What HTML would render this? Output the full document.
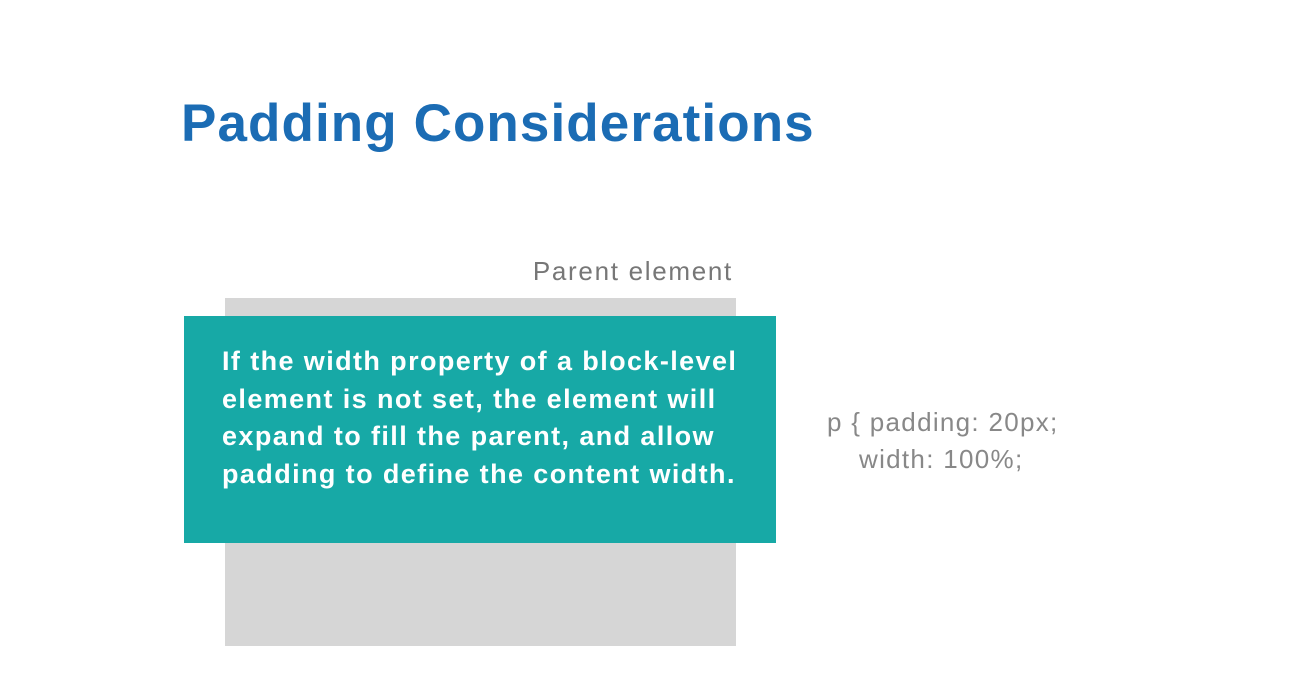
<!DOCTYPE html>
<html>
<head>
<meta charset="utf-8">
<style>
  html,body{margin:0;padding:0;background:#fff;}
  body{width:1294px;height:686px;position:relative;overflow:hidden;font-family:"Liberation Sans",sans-serif;}
  .title{position:absolute;left:181px;top:93px;font-size:53px;font-weight:bold;color:#1b6cb4;letter-spacing:1.1px;white-space:nowrap;}
  .parent-label{position:absolute;right:561px;top:256px;font-size:26px;color:#777;white-space:nowrap;letter-spacing:1.7px;}
  .parent{position:absolute;left:225px;top:298px;width:511px;height:348px;background:#d6d6d6;}
  .child{position:absolute;left:184px;top:316px;width:592px;height:227px;background:#17a9a6;box-sizing:border-box;padding:27px 0 0 38px;color:#fff;font-weight:bold;font-size:27px;line-height:37.5px;letter-spacing:1.4px;white-space:nowrap;}
  .code{position:absolute;left:827px;top:404px;font-size:26px;color:#888;line-height:37px;white-space:nowrap;letter-spacing:1.3px;}
</style>
</head>
<body>
  <div class="title">Padding Considerations</div>
  <div class="parent-label">Parent element</div>
  <div class="parent"></div>
  <div class="child">If the width property of a block-level<br>element is not set, the element will<br>expand to fill the parent, and allow<br>padding to define the content width.</div>
  <div class="code">p { padding: 20px;<br><span style="padding-left:32px">width: 100%;</span></div>
</body>
</html>
